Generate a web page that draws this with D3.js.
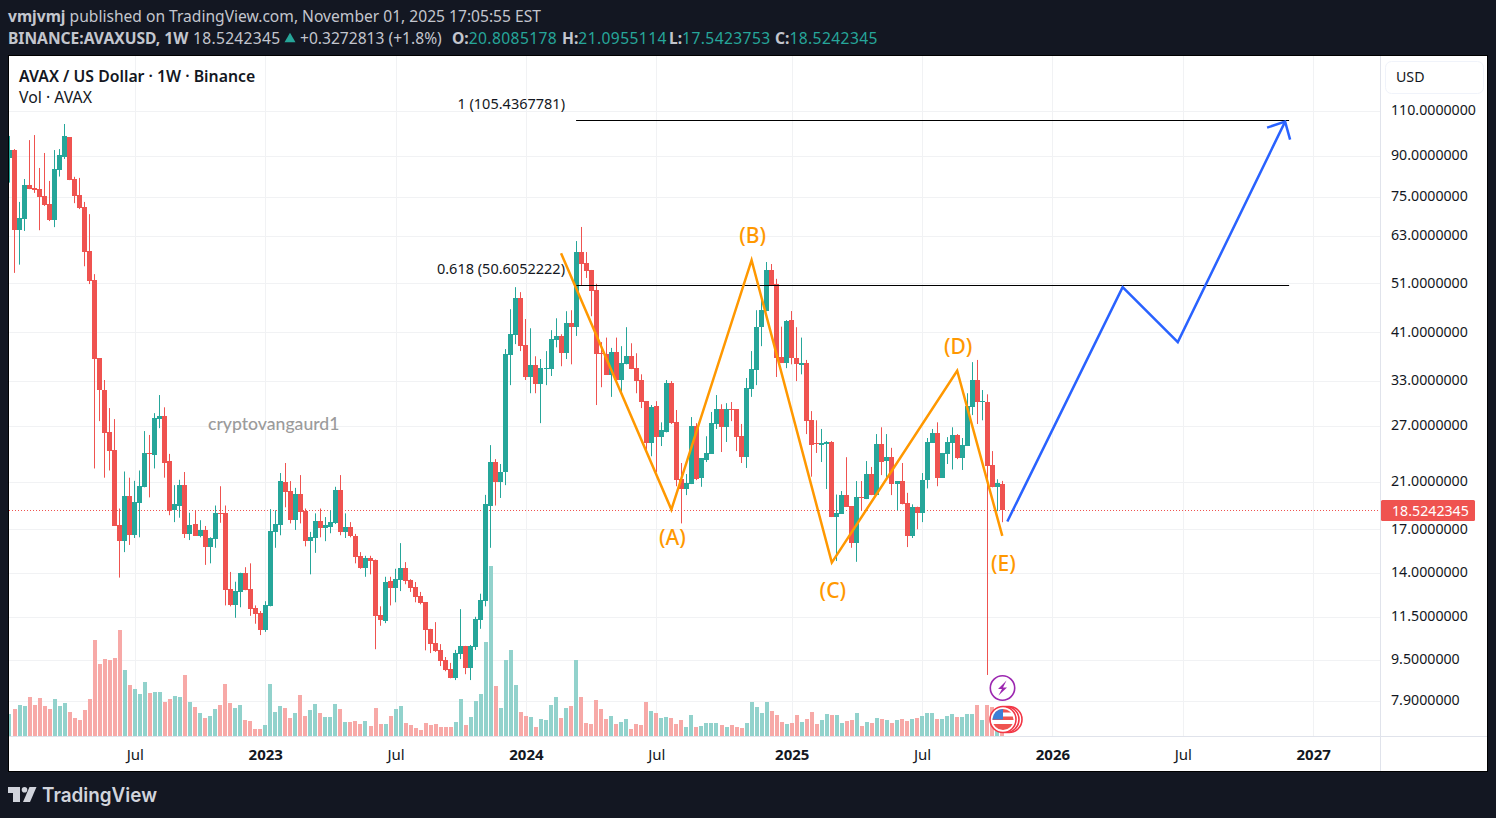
<!DOCTYPE html>
<html><head><meta charset="utf-8">
<script src="https://cdn.jsdelivr.net/npm/d3@7"></script>
<style>
html,body{margin:0;padding:0;background:#131722;overflow:hidden}
svg{display:block}
text{font-family:"Noto Sans",sans-serif}
</style></head><body>
<svg id="c" width="1496" height="818"></svg>
<script>
// Weekly candles as [open, high, low, close]
const candles2022=[[89.3,98.4,79.9,92.4],[92.4,92.8,53.4,64.7],[64.7,73.3,55.4,68.1],[68.0,81.2,64.4,79.0],[79.0,96.6,77.6,77.6],[78.0,98.8,76.3,77.3],[77.6,85.3,64.6,75.0],[75.3,91.2,72.0,72.3],[72.6,80.5,67.3,67.6],[67.6,92.4,65.5,84.9],[84.5,92.8,82.1,90.2],[89.5,103.8,88.8,98.4],[97.9,97.9,80.8,80.8],[81.2,82.0,72.9,75.3],[75.6,81.6,71.0,71.4],[71.7,73.3,55.0,58.6],[58.9,69.4,50.8,51.5],[51.7,53.1,22.3,36.3],[36.5,36.5,27.55,31.6],[31.6,33.1,21.4,26.1],[26.2,29.2,22.1,24.1],[24.2,27.8,17.25,17.25],[17.3,18.65,13.7,16.1],[16.1,22.0,15.35,19.7],[19.7,21.4,15.85,16.56],[16.56,21.1,16.35,19.2],[19.1,22.1,16.4,20.6],[20.5,26.35,20.5,23.9],[23.9,25.9,19.6,23.8],[23.7,28.55,22.3,27.9],[27.8,30.95,26.7,28.2],[28.2,29.3,21.4,22.85],[23.05,23.8,18.1,18.43],[18.5,20.7,17.55,19.0],[18.9,21.2,17.9,20.7],[20.7,21.95,16.35,16.65],[16.65,18.3,16.2,17.3],[17.4,18.5,16.5,16.5],[16.5,17.7,16.4,16.95],[16.95,17.25,14.5,15.7],[15.7,16.4,14.6,16.35],[16.25,18.9,15.65,18.3],[18.3,20.6,17.5,18.2],[18.3,18.9,12.1,12.95],[13.0,14.05,12.05,12.1],[12.1,13.45,11.45,12.9],[12.85,14.0,12.0,14.0],[14.0,14.35,12.95,12.95],[13.0,14.6,11.55,11.9],[11.95,12.1,11.15,11.65],[11.7,11.8,10.6,10.85]];
const candles2023=[[10.85,12.33,10.75,12.1],[12.05,18.6,12.05,16.86],[16.8,18.5,15.65,17.4],[17.3,21.85,16.55,21.08],[21.0,22.85,18.75,20.05],[20.16,21.08,17.45,17.7],[17.7,20.45,16.95,19.9],[19.9,21.65,17.45,18.35],[18.43,18.65,15.75,16.12],[16.12,16.8,13.9,16.4],[16.35,18.25,15.3,17.63],[17.63,18.65,16.4,17.1],[17.1,17.95,16.12,17.3],[17.15,18.5,16.7,17.55],[17.45,20.55,17.4,20.25],[20.25,21.65,16.55,16.8],[16.8,18.25,16.35,17.15],[17.15,17.55,16.4,16.5],[16.5,16.65,14.6,15.0],[15.1,15.35,14.25,14.3],[14.3,15.1,13.75,14.95],[14.95,15.1,13.9,14.75],[14.8,14.85,9.95,11.55],[11.6,12.05,11.05,11.33],[11.28,13.75,11.18,13.43],[13.49,13.75,12.1,13.07],[13.07,14.25,12.27,13.6],[13.55,15.98,12.9,14.3],[14.3,14.68,13.3,13.49],[13.55,13.6,12.85,13.07],[13.13,13.43,12.27,12.55],[12.6,12.85,12.16,12.22],[12.27,12.27,9.9,10.85],[10.9,10.9,9.78,10.18],[10.23,11.23,9.83,9.87],[9.92,10.18,9.23,9.44],[9.48,9.61,9.02,9.06],[9.1,9.36,8.74,8.74],[8.74,9.92,8.67,9.78],[9.74,11.9,9.52,10.1],[10.1,10.1,8.9,9.15],[9.15,10.14,8.67,10.1],[10.05,11.5,9.92,11.38],[11.33,12.75,10.9,12.4],[12.33,19.82,12.05,19.0],[18.9,24.75,15.65,22.95],[22.95,23.25,18.9,21.0],[21.0,22.75,19.55,21.95],[21.95,38.0,20.7,37.1],[37.0,45.4,32.35,40.6],[40.45,50.1,38.85,47.7],[47.7,49.0,37.66,38.5]];
const candles2024=[[38.65,43.45,33.1,33.55],[33.55,41.7,31.2,35.35],[35.35,36.8,31.2,32.5],[32.5,36.35,27.3,34.9],[34.75,37.66,32.35,34.9],[34.75,41.35,33.7,39.75],[39.55,43.6,38.3,40.3],[40.3,40.6,35.2,37.3],[37.3,45.0,36.35,42.7],[42.7,45.2,35.5,41.9],[41.9,61.55,40.3,58.6],[58.6,65.55,50.6,55.55],[55.8,58.6,52.2,53.83],[54.1,54.1,44.0,49.23],[49.45,50.85,29.6,37.1],[37.3,39.2,32.05,37.1],[37.1,40.0,33.85,33.85],[33.85,38.2,30.7,37.5],[37.5,40.0,33.1,33.1],[33.1,38.5,31.35,35.7],[35.5,41.9,35.5,36.8],[36.8,39.0,34.75,34.75],[34.9,37.3,31.2,32.94],[33.1,33.95,29.2,30.0],[30.12,30.12,24.1,25.0],[25.0,29.6,23.55,29.3],[29.45,30.12,21.95,25.65],[25.65,27.4,24.65,26.45],[26.2,33.1,26.2,32.65],[32.65,32.94,27.2,27.3],[27.4,28.95,20.6,21.17],[21.27,22.85,17.45,20.35],[20.35,21.75,19.8,20.9],[20.8,28.05,20.8,26.95],[26.95,27.3,21.17,21.27],[21.4,23.35,20.55,23.35],[23.15,25.75,22.95,23.9],[23.8,28.7,23.8,27.3],[27.2,30.95,26.6,29.05],[29.05,29.7,24.0,26.8],[26.8,29.85,25.1,29.05],[29.05,30.0,27.55,28.95],[29.05,29.05,24.1,25.65],[25.75,27.2,22.85,23.45],[23.45,33.4,22.35,31.9],[31.8,37.66,30.7,34.75],[34.6,45.2,32.35,42.0],[41.9,47.9,38.5,45.2],[45.0,56.05,45.0,54.1],[54.1,55.55,50.35,50.6],[50.85,52.0,33.55,36.5],[36.65,42.0,35.7,35.7]];
const candles2025=[[35.7,43.25,34.9,43.06],[43.25,45.03,35.5,36.5],[36.5,41.9,32.94,35.5],[35.35,40.0,33.95,35.7],[35.7,36.2,26.0,27.55],[27.65,28.81,21.5,24.75],[25.0,27.65,23.9,24.85],[24.75,26.6,22.95,25.0],[24.85,25.2,20.35,25.1],[25.1,25.2,17.95,17.95],[17.95,19.85,14.75,18.25],[18.2,20.16,18.2,19.85],[19.85,23.45,18.8,18.8],[18.85,18.85,15.65,16.0],[16.0,21.08,14.7,19.65],[19.65,21.08,18.5,19.55],[19.45,23.05,19.45,21.75],[21.75,22.45,19.8,19.85],[19.85,26.0,19.85,24.85],[24.85,26.8,21.65,22.95],[23.05,26.0,21.4,23.45],[23.45,24.45,19.8,20.8],[20.8,21.08,18.5,21.08],[21.08,22.85,19.0,19.0],[19.1,20.0,15.7,16.5],[16.5,19.0,16.35,18.8],[18.8,18.8,17.0,18.25],[18.25,21.85,17.55,21.17],[21.17,25.55,20.4,25.1],[25.0,26.6,25.0,26.1],[26.1,27.4,20.6,21.4],[21.4,23.9,21.4,23.9],[23.8,25.65,22.75,25.1],[25.0,26.8,22.2,25.9],[25.9,26.0,23.25,23.35],[23.35,25.55,22.15,24.75],[24.65,31.2,24.65,29.45],[29.3,35.85,28.3,33.1],[33.1,36.2,27.2,30.0],[30.0,31.65,27.65,30.12],[30.0,31.05,8.87,22.55],[22.6,24.1,20.5,20.5],[20.5,21.25,18.43,20.9],[20.8085178,21.0955114,17.5423753,18.5242345]];
// Weekly volume in millions of AVAX
const volume2022=[2.2,2.7,3.1,3.0,3.9,3.1,3.8,3.0,2.7,3.7,3.0,3.3,2.4,1.8,1.6,2.6,3.7,9.6,7.2,7.7,7.6,7.8,10.6,6.6,5.1,4.7,4.2,5.4,4.3,4.4,4.4,3.4,3.7,4.0,3.9,6.1,3.4,2.9,2.3,1.8,2.0,2.7,3.1,5.2,3.3,2.8,3.1,1.6,1.5,0.7,0.7];
const volume2023=[1.1,5.2,2.4,3.0,2.8,1.8,2.3,4.1,2.0,2.6,3.2,2.3,1.9,1.9,3.2,2.7,1.4,1.4,1.5,1.2,1.5,1.0,2.8,1.2,1.2,2.0,2.7,3.0,1.3,1.1,0.8,0.6,1.3,1.1,1.2,0.9,0.9,0.9,1.4,3.7,1.1,1.9,3.5,4.2,9.4,17.0,5.0,2.8,7.6,8.6,5.1,2.4];
const volume2024=[2.0,1.9,0.9,1.7,1.6,3.1,3.9,1.8,2.8,3.0,7.6,3.9,1.3,1.2,3.6,2.7,1.7,2.0,1.2,1.4,1.7,0.7,1.2,1.1,3.4,2.5,2.3,1.8,1.9,1.8,1.2,1.6,0.9,2.1,0.9,1.0,1.3,1.3,1.3,1.1,0.9,1.1,0.9,0.8,1.3,3.4,2.9,2.3,3.4,2.5,2.1,1.4];
const volume2025=[1.2,1.3,2.1,1.4,1.7,2.4,1.2,1.6,2.2,2.1,2.1,1.3,1.5,1.6,2.3,1.0,1.4,1.3,1.8,1.7,1.6,1.3,1.6,1.7,1.5,1.7,1.8,2.0,2.3,2.3,1.7,1.7,2.0,2.2,1.9,1.9,2.2,2.2,3.1,1.6,3.1,2.9,2.4,0.5];
// Axis ticks
const priceTicks=[110,90,75,63,51,41,33,27,21,17,14,11.5,9.5,7.9];
const timeTickDates=["2022-07-04","2023-01-02","2023-07-03","2024-01-01","2024-07-01","2025-01-06","2025-07-07","2026-01-05","2026-07-06","2027-01-04"];
const timeTickLabels=["Jul","2023","Jul","2024","Jul","2025","Jul","2026","Jul","2027"];
// Drawn annotations (weeks counted from the 2022-01-17 bar, price)
const waveWeeks=[109,131,147,163,188,197];
const wavePrices=[58.3,18.56,56.5,14.65,34.5,16.5];
const waveLabels=["(A)","(B)","(C)","(D)","(E)"];
const forecastWeeks=[198,221,232,253.4];
const forecastPrices=[17.6,50.1,39.2,104.9];
const fibWeeks=[112,254.2];
const fibPrices=[105.4367781,50.6052222];
const fibLabels=["1 (105.4367781)","0.618 (50.6052222)"];
const lastPrice=18.5242345;

const GREEN="#26a69a",RED="#ef5350",INK="#131722",GRID="#f1f2f4";
const candles=[...candles2022,...candles2023,...candles2024,...candles2025];
const volumes=[...volume2022,...volume2023,...volume2024,...volume2025];
const WEEK=7*864e5, t0=Date.UTC(2022,0,17);
const dateOf=k=>new Date(t0+k*WEEK);
const bars=candles.map((c,i)=>({k:i-1,o:c[0],h:c[1],l:c[2],c:c[3],v:volumes[i]}));

const L=9,R=1381,T=56,B=737,FR=1487,FB=771;
const x=d3.scaleUtc().domain([dateOf(0),dateOf(197)]).range([14.5,1002.3]);
const y=d3.scaleLog().domain([110,7.9]).range([111,700.9]);
const vy=d3.scaleLinear().domain([0,17]).range([736,566]);
const svg=d3.select("#c");
const defs=svg.append("defs");
defs.append("clipPath").attr("id","plot").append("rect").attr("x",L).attr("y",T).attr("width",R-L).attr("height",B-T);

// frame
svg.append("rect").attr("x",L).attr("y",T).attr("width",FR-L).attr("height",FB-T).attr("fill","#fff");
svg.append("rect").attr("x",L-.5).attr("y",T-.5).attr("width",FR-L+1).attr("height",FB-T+1).attr("fill","none").attr("stroke","#000");

// header
const head=svg.append("g").attr("font-size",15.6).attr("fill","#c3c6ce");
const l1=head.append("text").attr("x",8).attr("y",21.5);
l1.append("tspan").attr("font-weight",700).text("vmjvmj");
l1.append("tspan").text(" published on TradingView.com, November 01, 2025 17:05:55 EST");
const l2=head.append("text").attr("x",8).attr("y",43.5);
l2.append("tspan").attr("font-weight",700).text("BINANCE:AVAXUSD, 1W");
l2.append("tspan").attr("x",193).attr("letter-spacing",.3).text("18.5242345");
head.append("path").attr("d",d3.symbol(d3.symbolTriangle,52)()).attr("transform","translate(290,39)").attr("fill",GREEN);
l2.append("tspan").attr("x",300).text("+0.3272813 (+1.8%)");
[["O:","20.8085178",452],["H:","21.0955114",562],["L:","17.5423753",669],["C:","18.5242345",775]].forEach(([a,b,px])=>{
  l2.append("tspan").attr("x",px).attr("font-weight",700).text(a);
  l2.append("tspan").attr("fill",GREEN).attr("letter-spacing",.4).text(b);
});

// grid + axes
const tickDates=timeTickDates.map(s=>new Date(s+"T00:00:00Z"));
const grid=svg.append("g").attr("stroke",GRID).attr("stroke-width",1);
grid.selectAll(".h").data(priceTicks).join("line").attr("x1",L).attr("x2",R).attr("y1",d=>Math.round(y(d))+.5).attr("y2",d=>Math.round(y(d))+.5);
grid.selectAll(".v").data(tickDates).join("line").attr("y1",T).attr("y2",B).attr("x1",d=>Math.round(x(d))+.5).attr("x2",d=>Math.round(x(d))+.5);

const plot=svg.append("g").attr("clip-path","url(#plot)");
// volume
plot.selectAll(".vol").data(bars).join("rect")
 .attr("x",d=>Math.round(x(dateOf(d.k))-2)).attr("width",4)
 .attr("y",d=>Math.round(vy(d.v))).attr("height",d=>736-Math.round(vy(d.v)))
 .attr("fill",d=>d.c>=d.o?"#92d2cc":"#f7a9a7");
// last price line
const lastY=Math.floor(y(lastPrice))+.5;
plot.append("line").attr("x1",L).attr("x2",R).attr("y1",lastY).attr("y2",lastY).attr("stroke",RED).attr("stroke-dasharray","1 2").attr("stroke-width",1);
// wicks + bodies
plot.selectAll(".wick").data(bars).join("rect")
 .attr("x",d=>Math.round(x(dateOf(d.k))-.5)).attr("width",1)
 .attr("y",d=>y(d.h)).attr("height",d=>y(d.l)-y(d.h))
 .attr("fill",d=>d.c>=d.o?GREEN:RED);
plot.selectAll(".body").data(bars).join("rect")
 .attr("x",d=>Math.round(x(dateOf(d.k))-2.5)).attr("width",5)
 .attr("y",d=>Math.round(y(Math.max(d.o,d.c))))
 .attr("height",d=>Math.max(1,Math.round(y(Math.min(d.o,d.c)))-Math.round(y(Math.max(d.o,d.c)))))
 .attr("fill",d=>d.c>=d.o?GREEN:RED);

// fib lines
const anno=svg.append("g");
fibPrices.forEach((p,i)=>{
  anno.append("line").attr("x1",x(dateOf(fibWeeks[0]))).attr("x2",x(dateOf(fibWeeks[1])))
    .attr("y1",Math.round(y(p))+.5).attr("y2",Math.round(y(p))+.5).attr("stroke","#000").attr("stroke-width",1);
  anno.append("text").attr("x",565).attr("y",y(p)-11).attr("text-anchor","end").attr("font-size",14.5).attr("fill",INK).text(fibLabels[i]);
});
// waves
const line=d3.line().x(d=>x(dateOf(d[0]))).y(d=>y(d[1]));
anno.append("path").attr("d",line(waveWeeks.map((w,i)=>[w,wavePrices[i]]))).attr("fill","none").attr("stroke","#ff9800").attr("stroke-width",2.5);
const lblOff=[35.5,-17,35,-17,35];
waveLabels.forEach((s,i)=>{
  anno.append("text").attr("x",x(dateOf(waveWeeks[i+1]))+1).attr("y",y(wavePrices[i+1])+lblOff[i])
   .attr("text-anchor","middle").attr("font-size",21).attr("font-weight",500).attr("fill","#ff9800").text(s);
});
// forecast
const fpts=forecastWeeks.map((w,i)=>[w,forecastPrices[i]]);
anno.append("path").attr("d",line(fpts)).attr("fill","none").attr("stroke","#2962ff").attr("stroke-width",2.5);
const tipX=x(dateOf(fpts[3][0])),tipY=y(fpts[3][1]);
anno.append("path").attr("d",`M${tipX-18},${tipY+6}L${tipX},${tipY}L${tipX+5},${tipY+18}`).attr("fill","none").attr("stroke","#2962ff").attr("stroke-width",2.5);

// watermark + legend
svg.append("text").attr("x",208).attr("y",430).attr("font-size",17.6).attr("font-weight",500).attr("fill","#9b9b9b").style("font-family","Lato").text("cryptovangaurd1");
svg.append("text").attr("x",19).attr("y",82).attr("font-size",15.8).attr("font-weight",600).attr("fill",INK).text("AVAX / US Dollar · 1W · Binance");
svg.append("text").attr("x",19).attr("y",103).attr("font-size",15.8).attr("fill",INK).text("Vol · AVAX");

// event icons
const ic=svg.append("g");
ic.append("circle").attr("cx",1002.5).attr("cy",688).attr("r",12.2).attr("fill","#fff").attr("stroke","#9c27b0").attr("stroke-width",1.6);
ic.append("path").attr("d","M1006.5,680.5L998,689H1002L998.5,695.5L1007,687.5H1003Z").attr("fill","#9c27b0");
[1009,1006,1003].forEach(cx=>ic.append("circle").attr("cx",cx).attr("cy",719.5).attr("r",13).attr("fill","#fff").attr("stroke","#f23645").attr("stroke-width",1.6));
defs.append("clipPath").attr("id","flag").append("circle").attr("cx",1003).attr("cy",719.5).attr("r",10.5);
const fl=ic.append("g").attr("clip-path","url(#flag)");
fl.append("rect").attr("x",992).attr("y",709).attr("width",22).attr("height",21).attr("fill","#fff");
[709,716.5,724].forEach(yy=>fl.append("rect").attr("x",992).attr("y",yy).attr("width",22).attr("height",yy==724?6:3.5).attr("fill","#ef5350"));
fl.append("rect").attr("x",992).attr("y",709).attr("width",11).attr("height",10.5).attr("fill","#3d7fd6");

// price axis
svg.append("line").attr("x1",R-.5).attr("x2",R-.5).attr("y1",T).attr("y2",FB).attr("stroke","#e0e3eb");
svg.append("line").attr("x1",L).attr("x2",FR).attr("y1",B-.5).attr("y2",B-.5).attr("stroke","#e0e3eb");
const ya=svg.append("g").attr("transform",`translate(${R},0)`).call(d3.axisRight(y).tickValues(priceTicks).tickSize(0).tickPadding(10).tickFormat(d=>d.toFixed(7)));
ya.select(".domain").remove();
ya.selectAll("text").attr("font-size",14.2).attr("fill",INK).style("font-family",'"Noto Sans"').attr("dy","0.28em");
// last price tag
svg.append("rect").attr("x",R).attr("y",lastY-10.5).attr("width",94).attr("height",21).attr("rx",1.5).attr("fill",RED);
svg.append("text").attr("x",R+11).attr("y",lastY+5.5).attr("font-size",14.2).attr("fill","#fff").text(lastPrice.toFixed(7));
// USD button
svg.append("rect").attr("x",1385.5).attr("y",61.5).attr("width",98).attr("height",32).attr("rx",6).attr("fill","#fff").attr("stroke","#f0f3fa");
svg.append("text").attr("x",1396).attr("y",81.5).attr("font-size",14.2).attr("fill",INK).text("USD");

// time axis
const xa=svg.append("g").attr("transform",`translate(0,${B})`).call(d3.axisBottom(x).tickValues(tickDates).tickSize(0).tickPadding(12).tickFormat((d,i)=>timeTickLabels[i]));
xa.select(".domain").remove();
xa.selectAll("text").attr("font-size",15).attr("fill",INK).style("font-family",'"Noto Sans"').attr("font-weight",(d,i)=>/^\d/.test(timeTickLabels[i])?700:400);

// logo
const logo=svg.append("g").attr("fill","#d1d4dc");
logo.append("path").attr("d","M8,787H20V802H13V793H8Z");
logo.append("circle").attr("cx",24.5).attr("cy",789.7).attr("r",2.8);
logo.append("path").attr("d","M29.5,787H36.5L30,802H23Z");
logo.append("text").attr("x",42).attr("y",802).attr("font-size",20).attr("font-weight",600).style("font-family","Inter").attr("textLength",115).attr("lengthAdjust","spacingAndGlyphs").text("TradingView");
</script>
</body></html>
